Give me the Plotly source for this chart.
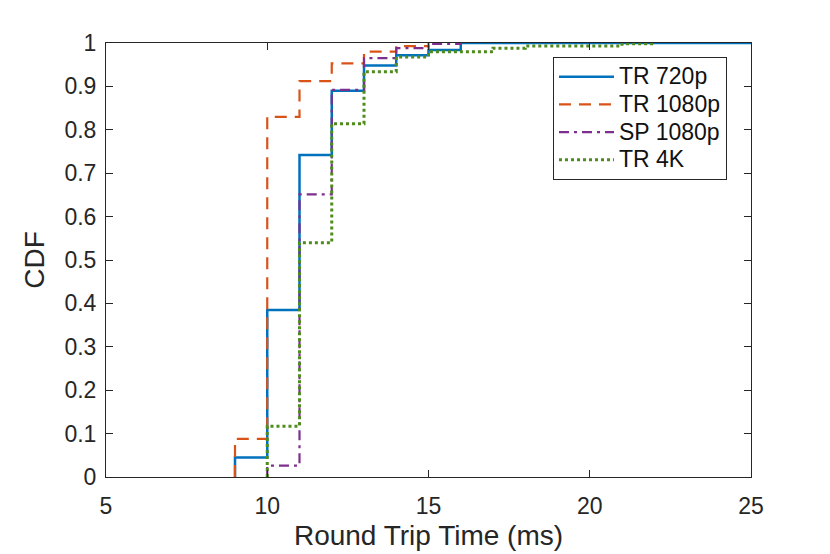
import plotly.graph_objects as go

# Round trip time (ms) step positions and CDF values
tr720_x = [9, 9, 10, 11, 12, 13, 14, 15, 16, 25]
tr720_y = [0, 0.045, 0.385, 0.742, 0.890, 0.948, 0.972, 0.984, 1.0, 1.0]

tr1080_x = [9, 9, 10, 11, 12, 13, 14, 15]
tr1080_y = [0, 0.088, 0.830, 0.912, 0.953, 0.980, 0.993, 1.0]

sp1080_x = [10, 10, 11, 12, 13, 14, 15, 16]
sp1080_y = [0, 0.026, 0.651, 0.892, 0.965, 0.988, 0.998, 1.0]

tr4k_x = [10, 10, 11, 12, 13, 14, 15, 17, 18, 21, 22]
tr4k_y = [0, 0.117, 0.540, 0.814, 0.934, 0.968, 0.980, 0.988, 0.993, 0.998, 1.0]

series_names = ["TR 720p", "TR 1080p", "SP 1080p", "TR 4K"]
x_ticks = [5, 10, 15, 20, 25]
y_ticks = [0, 0.1, 0.2, 0.3, 0.4, 0.5, 0.6, 0.7, 0.8, 0.9, 1]
y_ticktext = ["0", "0.1", "0.2", "0.3", "0.4", "0.5", "0.6", "0.7", "0.8", "0.9", "1"]

colors = ["#0072BD", "#D95319", "#7E2F8E", "#4E8C1C"]
dashes = ["solid", "12px,8px", "10px,5px,3px,5px", "3px,3px"]
widths = [2.5, 2.2, 2.2, 3]

data = [(tr720_x, tr720_y), (tr1080_x, tr1080_y), (sp1080_x, sp1080_y), (tr4k_x, tr4k_y)]

fig = go.Figure()
for (xs, ys), name, c, d, w in zip(data, series_names, colors, dashes, widths):
    fig.add_trace(go.Scatter(
        x=xs, y=ys, mode="lines",
        name="<span style='font-size:23px'>%s</span>" % name,
        line=dict(color=c, dash=d, width=w, shape="hv"),
    ))

axis_common = dict(
    showline=True, linecolor="#262626", linewidth=1, mirror="ticks",
    ticks="inside", ticklen=7, tickwidth=1, tickcolor="#262626",
    showgrid=False, zeroline=False,
    tickfont=dict(size=23, color="#262626"),
    title_font=dict(size=28, color="#262626"),
)

fig.update_layout(
    width=830, height=554,
    margin=dict(l=98, r=87, t=35, b=85),
    paper_bgcolor="white", plot_bgcolor="white",
    font=dict(family="Liberation Sans, Arial, sans-serif", color="#262626"),
    xaxis=dict(range=[5, 25], tickvals=x_ticks, title_text="Round Trip Time (ms)",
               title_standoff=7, ticklabelstandoff=8, **axis_common),
    yaxis=dict(range=[0, 1], tickvals=y_ticks, ticktext=y_ticktext, title_text="CDF",
               title_standoff=11, ticklabelstandoff=4, **axis_common),
    legend=dict(
        x=0.693, y=0.968, xanchor="left", yanchor="top",
        bgcolor="white", bordercolor="#262626", borderwidth=1,
        font=dict(size=19, color="#111111"),
        itemwidth=55,
    ),
    showlegend=True,
)

fig.write_html("out.html")
